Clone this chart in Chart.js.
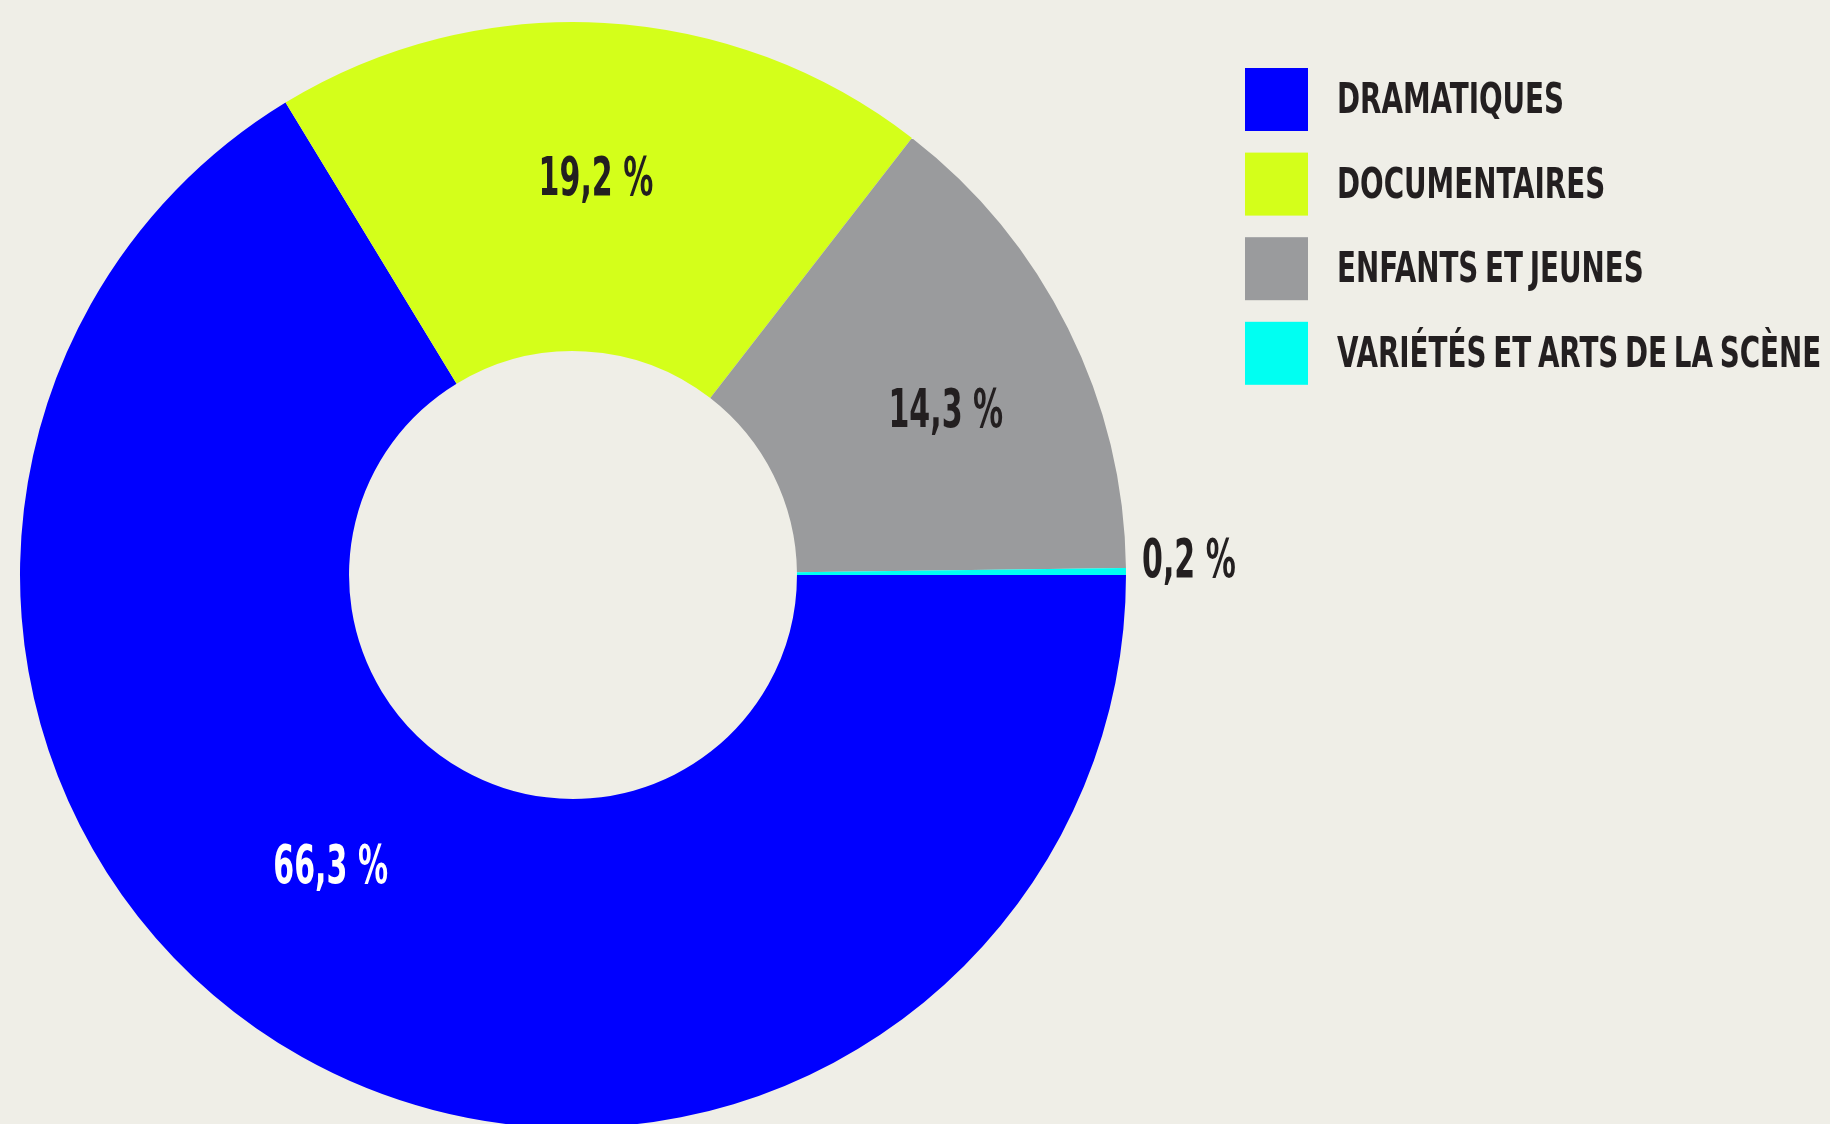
<!DOCTYPE html>
<html lang="fr">
<head>
<meta charset="utf-8">
<title>Genres</title>
<script src="https://cdn.jsdelivr.net/npm/chart.js@4"></script>
<style>
  html, body { margin: 0; padding: 0; background: #efeee7; overflow: hidden; }
  #wrap { position: relative; width: 1830px; height: 1130px; }
</style>
</head>
<body>
<div id="wrap"><canvas id="myCanvas"></canvas></div>
<script>
let genres = ["DRAMATIQUES", "DOCUMENTAIRES", "ENFANTS ET JEUNES", "VARIÉTÉS ET ARTS DE LA SCÈNE"];
let parts = [66.3, 19.2, 14.3, 0.2];
let couleurs = ["#0000ff", "#d4ff1a", "#9a9b9d", "#00fff2"];
let etiquettes = ["66,3 %", "19,2 %", "14,3 %", "0,2 %"];

// petits décalages des pourcentages par rapport au milieu de l'anneau
let decalages = [[-52, -50], [1, -11], [25, 6], null];
let couleursTexte = ["#ffffff", "#231f20", "#231f20", "#231f20"];
let encre = "#231f20";

// texte étroit : police condensée, resserrée horizontalement
function texteEtroit(ctx, txt, x, y, taille, serre, align, espace) {
  ctx.save();
  ctx.font = "bold " + taille + "px 'DejaVu Sans Condensed', 'Liberation Sans Narrow', sans-serif";
  ctx.wordSpacing = (espace || 0) + "px";
  let w = ctx.measureText(txt).width * serre;
  let x0 = align === "center" ? x - w / 2 : x;
  ctx.translate(x0, y);
  ctx.scale(serre, 1);
  ctx.textAlign = "left";
  ctx.textBaseline = "alphabetic";
  ctx.fillText(txt, 0, 0);
  ctx.restore();
}

let pourcentages = {
  id: "pourcentages",
  afterDraw(chart) {
    let ctx = chart.ctx;
    let arcs = chart.getDatasetMeta(0).data;
    arcs.forEach((arc, i) => {
      let p = arc.getProps(["x", "y", "startAngle", "endAngle", "innerRadius", "outerRadius"], true);
      let mid = (p.startAngle + p.endAngle) / 2;
      ctx.fillStyle = couleursTexte[i];
      if (decalages[i]) {
        let r = (p.innerRadius + p.outerRadius) / 2;
        let cx = p.x + r * Math.cos(mid) + decalages[i][0];
        let cy = p.y + r * Math.sin(mid) + decalages[i][1];
        texteEtroit(ctx, etiquettes[i], cx, cy + 19, 53, 0.63, "center");
      } else {
        // tranche trop fine : étiquette à l'extérieur
        let ox = p.x + p.outerRadius * Math.cos(mid) + 16;
        let oy = p.y + p.outerRadius * Math.sin(mid) + 5;
        texteEtroit(ctx, etiquettes[i], ox, oy, 53, 0.63, "left");
      }
    });

    // légende
    genres.forEach((g, i) => {
      let top = 68 + i * 84.6;
      ctx.fillStyle = couleurs[i];
      ctx.fillRect(1245, top, 63, 63);
      ctx.fillStyle = encre;
      texteEtroit(ctx, g, 1337, top + 45, 42, 0.735, "left", -4);
    });
  }
};

creaGrafico();

function creaGrafico() {
  let myCanvas = document.querySelector("#myCanvas").getContext("2d");
  new Chart(myCanvas, {
    type: "doughnut",
    data: {
      labels: genres,
      datasets: [
        {
          label: "Part",
          data: parts,
          backgroundColor: couleurs,
          borderWidth: 0,
          hoverOffset: 0,
          offset: 0,
        },
      ],
    },
    options: {
      responsive: true,
      maintainAspectRatio: false,
      animation: false,
      rotation: 90,
      cutout: "40.5%",
      layout: { padding: { left: 20, top: 22, right: 704, bottom: 2 } },
      plugins: {
        legend: { display: false },
        tooltip: { enabled: false },
      },
    },
    plugins: [pourcentages],
  });
}
</script>
</body>
</html>
